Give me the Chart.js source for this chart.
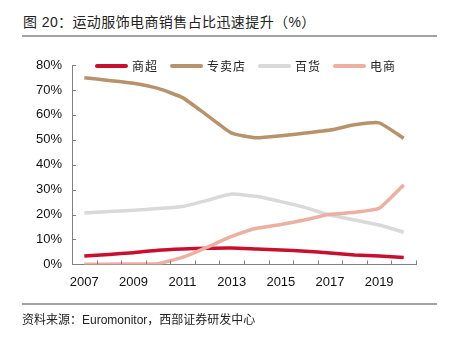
<!DOCTYPE html>
<html>
<head>
<meta charset="utf-8">
<script src="https://cdn.jsdelivr.net/npm/chart.js@4.4.1/dist/chart.umd.min.js"></script>
<style>
    html, body { margin: 0; padding: 0; background: #fff; }
    body { width: 455px; height: 338px; position: relative; overflow: hidden;
           font-family: "Liberation Sans", "Noto Sans CJK SC", sans-serif; color: #222; }
    #chart { position: absolute; left: 0; top: 0; }
    .title { position: absolute; left: 23px; top: 12px; font-size: 14px; line-height: 20px; letter-spacing: 0.4px; }
    .rule { position: absolute; left: 22px; width: 415px; height: 2px; background: #a3a3a3; }
    .source { position: absolute; left: 22px; top: 311px; font-size: 12px; line-height: 18px; }
    #legend { position: absolute; left: 95px; top: 58px; display: flex; gap: 12px; font-size: 12px; line-height: 16px; }
    #legend .item { display: flex; align-items: center; }
    #legend .swatch { width: 33px; height: 4px; border-radius: 2px; margin-right: 4px; }
    #legend .name { letter-spacing: 1px; font-family: "Noto Sans CJK SC", sans-serif; }
</style>
</head>
<body>
<div class="title">图 20：运动服饰电商销售占比迅速提升（%）</div>
<div class="rule" style="top:35px"></div>
<canvas id="chart" width="455" height="338"></canvas>
<div id="legend"></div>
<div class="rule" style="top:303px"></div>
<div class="source">资料来源：Euromonitor，西部证券研发中心</div>
<script>
// 年份
const years = ['2007', '2008', '2009', '2010', '2011', '2012', '2013',
               '2014', '2015', '2016', '2017', '2018', '2019', '2020'];
const seriesNames = ['商超', '专卖店', '百货', '电商'];
// 各渠道销售占比 (%)
const supermarket = [3.4, 4.0, 4.7, 5.7, 6.2, 6.5, 6.6, 6.2, 5.8, 5.3, 4.6, 3.8, 3.4, 2.8];
const specialty   = [74.9, 73.8, 72.7, 70.6, 66.9, 59.8, 52.7, 50.8, 51.6, 52.7, 53.9, 56.0, 56.8, 50.6];
const department  = [20.6, 21.2, 21.7, 22.4, 23.2, 25.7, 28.2, 27.3, 25.2, 22.8, 19.8, 17.8, 15.8, 12.9];
const online      = [0.1, 0.1, 0.2, 0.3, 2.8, 6.9, 11.2, 14.5, 16.0, 17.9, 20.1, 20.9, 22.5, 31.9];
const yTicks = [0, 10, 20, 30, 40, 50, 60, 70, 80];

const colors = ['#C8102E', '#B8926A', '#D9D9D9', '#EBB0A2'];
const seriesData = [supermarket, specialty, department, online];
const axisColor = '#808080';

// tick marks pointing into the plot, like the original
const innerTicks = {
    id: 'innerTicks',
    afterDraw(chart) {
        const ctx = chart.ctx;
        const x = chart.scales.x;
        const y = chart.scales.y;
        ctx.save();
        ctx.strokeStyle = axisColor;
        ctx.lineWidth = 1;
        ctx.beginPath();
        const step = x.getPixelForValue(1) - x.getPixelForValue(0);
        for (let i = 0; i < years.length; i++) {
            const px = Math.round(x.getPixelForValue(i) + step / 2) + 0.5;
            ctx.moveTo(px, x.top);
            ctx.lineTo(px, x.top - 4);
        }
        yTicks.forEach(v => {
            const py = Math.round(y.getPixelForValue(v)) + 0.5;
            ctx.moveTo(y.right, py);
            ctx.lineTo(y.right + 4, py);
        });
        ctx.stroke();
        ctx.restore();
    }
};

const legendEl = document.getElementById('legend');
seriesNames.forEach((name, i) => {
    const item = document.createElement('div');
    item.className = 'item';
    item.innerHTML = '<span class="swatch" style="background:' + colors[i] + '"></span><span class="name">' + name + '</span>';
    legendEl.appendChild(item);
});

new Chart(document.getElementById('chart'), {
    type: 'line',
    data: {
        labels: years,
        datasets: seriesNames.map((name, i) => ({
            label: name,
            data: seriesData[i],
            borderColor: colors[i],
            backgroundColor: colors[i],
            borderWidth: 3.5,
            pointRadius: 0,
            tension: 0.15,
            fill: false,
            order: i === 3 ? -1 : i
        }))
    },
    options: {
        responsive: false,
        animation: false,
        devicePixelRatio: 1,
        layout: { padding: { left: 26, right: 39, top: 65, bottom: 38 } },
        plugins: {
            legend: { display: false },
            tooltip: { enabled: false }
        },
        scales: {
            x: {
                type: 'category',
                offset: true,
                grid: { display: false, drawTicks: false },
                border: { display: true, color: axisColor, width: 1 },
                ticks: {
                    autoSkip: false,
                    maxRotation: 0,
                    padding: 10,
                    color: '#111',
                    font: { family: 'Liberation Sans', size: 13 },
                    callback: (v, i) => (i % 2 === 0 ? years[i] : '')
                }
            },
            y: {
                min: 0,
                max: 80,
                grid: { display: false, drawTicks: false },
                border: { display: true, color: axisColor, width: 1 },
                afterBuildTicks: scale => { scale.ticks = yTicks.map(v => ({ value: v })); },
                ticks: {
                    padding: 10,
                    color: '#111',
                    font: { family: 'Liberation Sans', size: 13 },
                    callback: v => v + '%'
                }
            }
        }
    },
    plugins: [innerTicks]
});
</script>
</body>
</html>
